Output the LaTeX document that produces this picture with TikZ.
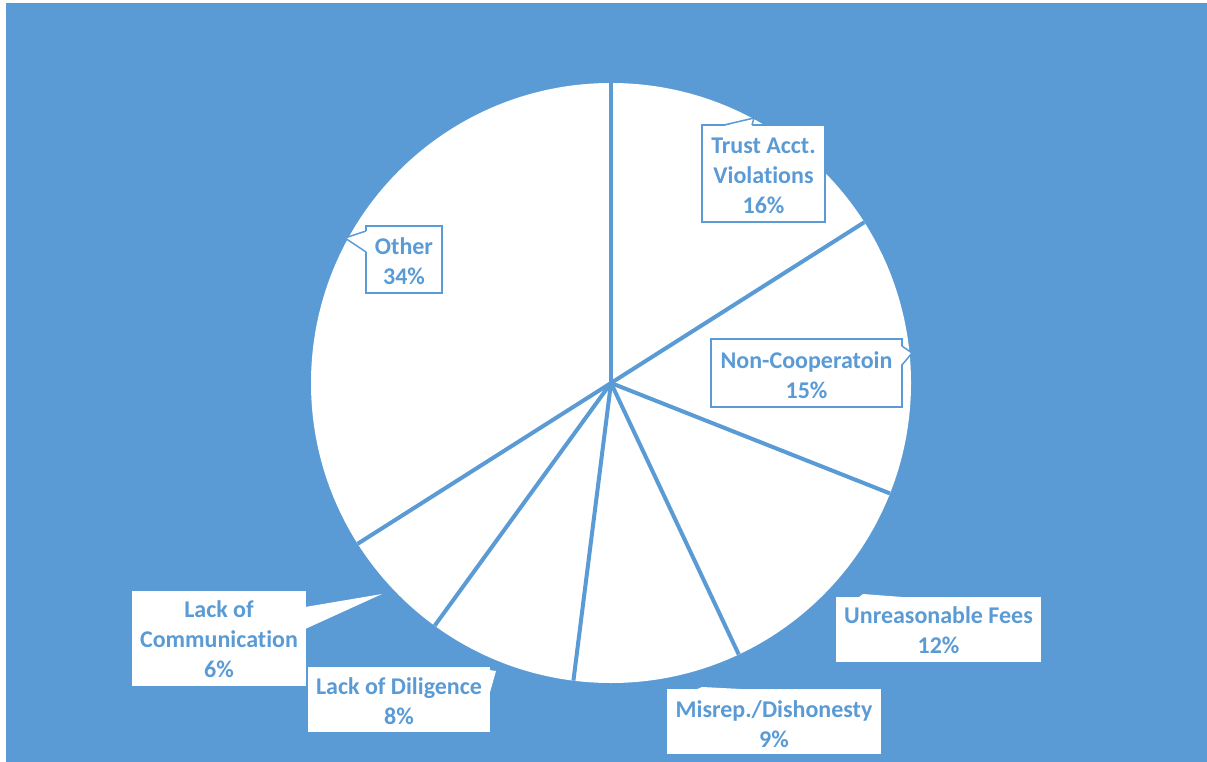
\documentclass[tikz,border=0pt]{standalone}
\usepackage{fontspec}
\setmainfont{Carlito}[Ligatures=NoCommon]
\definecolor{bl}{HTML}{5B9BD5}
\tikzset{
  lbl/.style={rectangle, fill=white, text=bl, align=center, inner sep=0pt,
    font=\bfseries\fontsize{24}{30}\selectfont},
  inlbl/.style={lbl, draw=bl, line width=1.5pt},
  outlbl/.style={lbl, draw=none},
  ptr/.style={fill=white},
  ptrline/.style={draw=bl, line width=1.5pt, line join=miter},
  radial/.style={draw=bl, line width=4pt}
}
\begin{document}
\begin{tikzpicture}[x=1pt,y=-1pt]
\useasboundingbox (0,0) rectangle (1207,762);
\fill[bl] (6,3) rectangle (1207,762);
\coordinate (c) at (611,383);
\fill[white] (c) circle (300);
\foreach \a in {-90,-32.4,21.6,64.8,97.2,126,147.6}{
  \draw[radial] (c) -- ++(\a:300);
}
% inner labels
\node[inlbl, minimum width=123pt, minimum height=97pt] (trust) at (763.5,173.5) {};
\node[text=bl, align=center, font=\bfseries\fontsize{24}{30}\selectfont] (trustt) at (763.5,175.5) {Trust Acct.\\Violations\\16\%};
\node[inlbl, minimum width=76pt, minimum height=67pt] (other) at (404,259.5) {};
\node[text=bl, align=center, font=\bfseries\fontsize{24}{30}\selectfont] (othert) at (404,261) {Other\\34\%};
\node[inlbl, minimum width=191pt, minimum height=68pt] (noncoop) at (806.5,373) {};
\node[text=bl, align=center, font=\bfseries\fontsize{24}{30}\selectfont] (noncoopt) at (806.5,375) {Non-Cooperatoin\\15\%};
% outer labels
\node[outlbl, minimum width=205pt, minimum height=65pt] (fees) at (938.5,629.5) {};
\node[text=bl, align=center, font=\bfseries\fontsize{24}{30}\selectfont] (feest) at (938.5,630.5) {Unreasonable Fees\\12\%};
\node[outlbl, minimum width=214pt, minimum height=65pt] (misrep) at (774,721.5) {};
\node[text=bl, align=center, font=\bfseries\fontsize{24}{30}\selectfont] (misrept) at (774,724) {Misrep./Dishonesty\\9\%};
\node[outlbl, minimum width=174pt, minimum height=95pt] (comm) at (219,638.5) {};
\node[text=bl, align=center, font=\bfseries\fontsize{24}{30}\selectfont] (commt) at (219,639.5) {Lack of\\Communication\\6\%};
\node[outlbl, minimum width=182pt, minimum height=65pt] (dilig) at (399,699.5) {};
\node[text=bl, align=center, font=\bfseries\fontsize{24}{30}\selectfont] (diligt) at (399,701.5) {Lack of Diligence\\8\%};
% pointer tips
\coordinate (ttip) at (754,118);
\coordinate (otip) at (345,238);
\coordinate (ntip) at (912,353);
\coordinate (ftip) at (863,594);
\coordinate (mtip) at (702,687);
\coordinate (ctip) at (382,594);
\coordinate (dtip) at (496,671);
% inner pointers
\fill[ptr] (724,126) -- (ttip) -- (752,126) -- cycle;
\draw[ptrline] (724,125) -- (ttip) -- (752,125);
\fill[ptr] (367,231) -- (otip) -- (367,252) -- cycle;
\draw[ptrline] (366,231) -- (otip) -- (366,252);
\fill[ptr] (901,346) -- (ntip) -- (901,365) -- cycle;
\draw[ptrline] (902,346) -- (ntip) -- (902,365);
% outer pointers
\fill[ptr] (858,598) -- (ftip) -- (915,598) -- cycle;
\fill[ptr] (695,690) -- (mtip) -- (760,690) -- cycle;
\fill[ptr] ([xshift=-1pt]comm.east |- 0,607) -- (ctip) -- ([xshift=-1pt]comm.east |- 0,629) -- cycle;
\fill[ptr] ([xshift=-1pt]dilig.east |- 0,670) -- (dtip) -- ([xshift=-1pt]dilig.east |- 0,695) -- cycle;
\end{tikzpicture}
\end{document}
